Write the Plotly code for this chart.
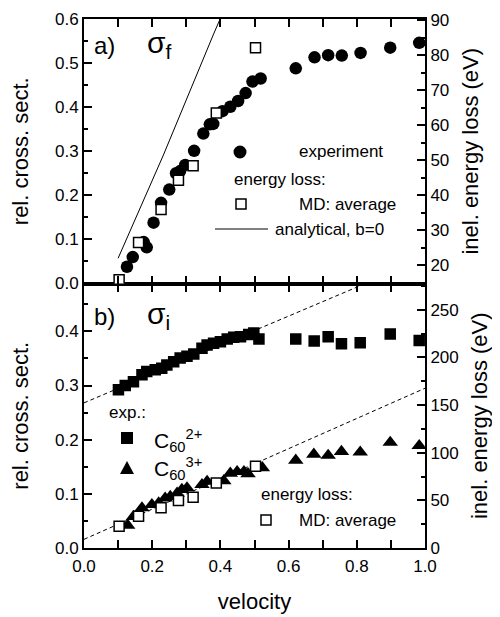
import plotly.graph_objects as go

# ---------------- data ----------------
# panel a) fragmentation cross section, experiment
v_f = [0.126, 0.143, 0.175, 0.184, 0.204, 0.226, 0.250, 0.270, 0.282, 0.297,
       0.323, 0.350, 0.369, 0.379, 0.406, 0.429, 0.452, 0.474, 0.494, 0.518,
       0.621, 0.676, 0.716, 0.756, 0.811, 0.898, 0.983]
s_f = [0.038, 0.060, 0.094, 0.082, 0.138, 0.183, 0.213, 0.250, 0.255, 0.269,
       0.301, 0.340, 0.361, 0.362, 0.391, 0.401, 0.414, 0.432, 0.458, 0.465,
       0.488, 0.513, 0.518, 0.517, 0.523, 0.535, 0.546]

# MD average energy loss (eV)
v_md = [0.103, 0.160, 0.226, 0.277, 0.320, 0.388, 0.503]
e_md_f = [15.9, 26.5, 35.9, 44.3, 48.4, 63.5, 82.1]
e_md_i = [22.9, 33.3, 42.1, 49.8, 53.3, 68.3, 85.7]

# analytical energy loss, b=0 (eV)
v_an = [0.100, 0.233, 0.380, 0.400]
e_an = [22.0, 51.5, 86.0, 90.5]

# panel b) ionisation cross sections
v_2 = [0.101, 0.121, 0.145, 0.170, 0.184, 0.209, 0.228, 0.243, 0.263, 0.282,
       0.302, 0.322, 0.346, 0.361, 0.380, 0.400, 0.420, 0.439, 0.459, 0.483,
       0.498, 0.513, 0.621, 0.675, 0.716, 0.755, 0.810, 0.898, 0.983]
s_2 = [0.292, 0.300, 0.307, 0.320, 0.326, 0.329, 0.332, 0.338, 0.344, 0.351,
       0.354, 0.358, 0.369, 0.375, 0.378, 0.381, 0.386, 0.389, 0.390, 0.394,
       0.397, 0.386, 0.386, 0.382, 0.390, 0.377, 0.379, 0.395, 0.383]
v_3 = [0.128, 0.145, 0.170, 0.199, 0.219, 0.238, 0.253, 0.273, 0.287, 0.302,
       0.346, 0.361, 0.410, 0.429, 0.449, 0.469, 0.481, 0.523, 0.621, 0.674,
       0.716, 0.755, 0.810, 0.898, 0.983]
s_3 = [0.042, 0.058, 0.074, 0.080, 0.083, 0.092, 0.095, 0.101, 0.108, 0.111,
       0.117, 0.123, 0.124, 0.138, 0.141, 0.141, 0.137, 0.148, 0.162, 0.173,
       0.171, 0.178, 0.177, 0.195, 0.189]

# dashed guide lines
v_d = [0.0, 1.0]
s_d_upper = [0.268, 0.535]
s_d_lower = [0.016, 0.295]

# ---------------- layout geometry ----------------
W, H = 500, 617
OFF = 8  # page body margin
L, R, T, B = 84, 425, 19, 548  # plot area in page pixels
FONT = "Liberation Sans, Arial, sans-serif"


def px(x):
    return (x - L) / (R - L)


def py(y):
    return (B - y) / (B - T)


fig = go.Figure()

# top panel
fig.add_trace(go.Scatter(x=v_f, y=s_f, xaxis="x2", yaxis="y3", mode="markers",
                         marker=dict(symbol="circle", size=12.5, color="black"),
                         name="experiment"))
fig.add_trace(go.Scatter(x=v_an, y=e_an, xaxis="x2", yaxis="y4", mode="lines",
                         line=dict(color="black", width=1), name="analytical, b=0"))
fig.add_trace(go.Scatter(x=v_md, y=e_md_f, xaxis="x2", yaxis="y4", mode="markers",
                         marker=dict(symbol="square", size=10, color="white",
                                     line=dict(color="black", width=1.5)),
                         name="MD: average"))
# bottom panel
fig.add_trace(go.Scatter(x=v_d, y=s_d_upper, xaxis="x", yaxis="y", mode="lines",
                         line=dict(color="black", width=1, dash="4px,3px")))
fig.add_trace(go.Scatter(x=v_d, y=s_d_lower, xaxis="x", yaxis="y", mode="lines",
                         line=dict(color="black", width=1, dash="4px,3px")))
fig.add_trace(go.Scatter(x=v_2, y=s_2, xaxis="x", yaxis="y", mode="markers",
                         marker=dict(symbol="square", size=11.5, color="black"),
                         name="C60 2+"))
fig.add_trace(go.Scatter(x=v_3, y=s_3, xaxis="x", yaxis="y", mode="markers",
                         marker=dict(symbol="triangle-up", size=13.5, color="black"),
                         name="C60 3+"))
fig.add_trace(go.Scatter(x=v_md, y=e_md_i, xaxis="x", yaxis="y2", mode="markers",
                         marker=dict(symbol="square", size=10, color="white",
                                     line=dict(color="black", width=1.5)),
                         name="MD: average"))

tickfont = dict(family=FONT, size=17, color="black")
titlefont = dict(family=FONT, size=22, color="black")

common = dict(showline=True, linewidth=2, linecolor="black", ticks="inside",
              ticklen=8, tickwidth=1.5, tickcolor="black", showgrid=False,
              zeroline=False, tickfont=tickfont, automargin=False)


def minor(d):
    return dict(dtick=d, ticklen=4, tickwidth=1.5, ticks="inside", tickcolor="black")


fig.update_layout(
    width=W - OFF, height=H - OFF,
    margin=dict(l=L - OFF, r=W - R, t=T - OFF, b=H - B, autoexpand=False),
    paper_bgcolor="white", plot_bgcolor="white",
    showlegend=False,
    xaxis=dict(domain=[0, 1], anchor="y", range=[0, 1], dtick=0.2,
               tickformat=".1f", mirror="allticks", minor=minor(0.1),
               title=dict(text="velocity", font=titlefont, standoff=18),
               ticklabelstandoff=2, **common),
    xaxis2=dict(domain=[0, 1], anchor="y3", range=[0, 1], dtick=0.2,
                mirror="allticks", showticklabels=False, minor=minor(0.1),
                **common),
    yaxis=dict(domain=[0, 0.5], anchor="x", range=[0, 0.4884], dtick=0.1,
               tickformat=".1f", minor=minor(0.05),
               title=dict(text="rel. cross. sect.", font=titlefont, standoff=27),
               **common),
    yaxis2=dict(overlaying="y", anchor="x", side="right", range=[0, 277.5],
                dtick=50, minor=minor(25),
                title=dict(text="inel. energy loss (eV)", font=titlefont, standoff=14),
                **common),
    yaxis3=dict(domain=[0.5, 1], anchor="x2", range=[0, 0.6], dtick=0.1,
                tickformat=".1f", minor=minor(0.05),
                title=dict(text="rel. cross. sect.", font=titlefont, standoff=27),
                **common),
    yaxis4=dict(overlaying="y3", anchor="x2", side="right", range=[14.8, 90.3],
                dtick=10, tick0=0, minor=minor(5),
                title=dict(text="inel. energy loss (eV)", font=titlefont, standoff=14),
                **common),
)

# ---------------- text annotations ----------------
def note(x, y, text, size=17, xanchor="left"):
    fig.add_annotation(xref="paper", yref="paper", x=px(x), y=py(y), text=text,
                       showarrow=False, xanchor=xanchor, yanchor="middle",
                       font=dict(family=FONT, size=size, color="black"))


note(92, 45, "a)", size=24)
note(145, 44, "σ<sub>f</sub>", size=30)
note(92, 316, "b)", size=24)
note(145, 315, "σ<sub>i</sub>", size=30)

note(297, 152, "experiment")
note(232, 179, "energy loss:")
note(297, 204, "MD: average")
note(273, 229, "analytical, b=0")

note(107, 412, "exp.:")
note(152, 440, "C<sub>60</sub><sup>2+</sup>", size=21)
note(152, 468, "C<sub>60</sub><sup>3+</sup>", size=21)
note(259, 494, "energy loss:")
note(297, 520, "MD: average")


# ---------------- legend keys (drawn as shapes) ----------------
def box(cx, cy, half, fill):
    fig.add_shape(type="rect", xref="paper", yref="paper",
                  x0=px(cx - half), x1=px(cx + half), y0=py(cy + half), y1=py(cy - half),
                  fillcolor=fill, line=dict(color="black", width=1.5))


fig.add_shape(type="circle", xref="paper", yref="paper",
              x0=px(240 - 6.5), x1=px(240 + 6.5), y0=py(152 + 6.5), y1=py(152 - 6.5),
              fillcolor="black", line=dict(color="black", width=0))
box(241, 204, 5, "white")
fig.add_shape(type="line", xref="paper", yref="paper",
              x0=px(215), x1=px(268), y0=py(229), y1=py(229),
              line=dict(color="black", width=1))
fig.add_shape(type="rect", xref="paper", yref="paper",
              x0=px(121), x1=px(133), y0=py(444), y1=py(432),
              fillcolor="black", line=dict(color="black", width=0))
fig.add_shape(type="path", xref="paper", yref="paper",
              path="M {} {} L {} {} L {} {} Z".format(px(120), py(474), px(134), py(474),
                                                     px(127), py(461)),
              fillcolor="black", line=dict(color="black", width=0))
box(266, 520, 5, "white")

fig.write_html("out.html")
